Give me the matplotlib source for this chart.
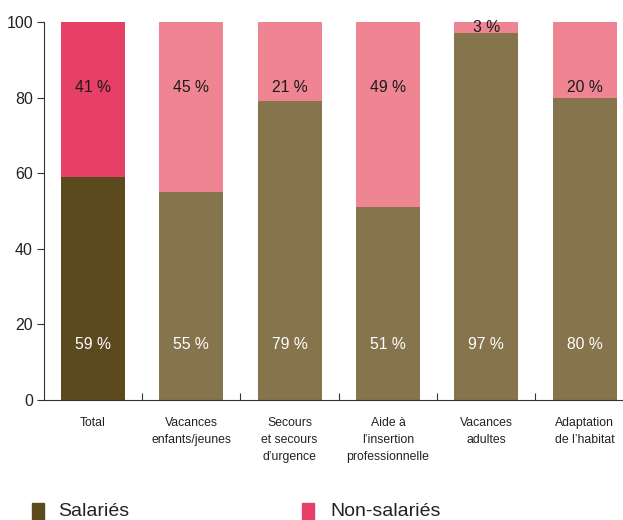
import numpy as np
import matplotlib.pyplot as plt
from matplotlib.patches import Rectangle

categories = ["Total", "Vacances\nenfants/jeunes", "Secours\net secours\nd\u2019urgence",
              "Aide \u00e0\nl\u2019insertion\nprofessionnelle", "Vacances\nadultes",
              "Adaptation\nde l\u2019habitat"]
salaries = [59, 55, 79, 51, 97, 80]
non_salaries = [41, 45, 21, 49, 3, 20]

sal_colors = ["#5c4a1f"] + ["#85744c"] * 5
non_colors = ["#e64066"] + ["#ef8593"] * 5

plt.rcParams['font.family'] = ['Liberation Sans', 'DejaVu Sans']

fig = plt.figure(figsize=(6.23, 5.20), dpi=100)
ax = fig.add_axes([44 / 623, 1 - 400 / 520, 1 - 44 / 623, 378 / 520])

x = np.arange(len(categories))
w = 0.65
ax.bar(x, salaries, w, color=sal_colors)
ax.bar(x, non_salaries, w, bottom=salaries, color=non_colors)

for i in x:
    ax.text(i, 14.8, "%d %%" % salaries[i], ha='center', va='center',
            color='white', fontsize=11.3)
    ypos = 82.6 if non_salaries[i] > 10 else salaries[i] + non_salaries[i] / 2
    ax.text(i, ypos, "%d %%" % non_salaries[i], ha='center', va='center',
            color='#1a1a1a', fontsize=11.3)

ax.set_xlim(-0.498, 5.39)
ax.set_ylim(0, 100)
ax.set_yticks([0, 20, 40, 60, 80, 100])
ax.tick_params(axis='y', length=5, width=0.8, color='#333333', labelsize=11.5,
               labelcolor='#222222', pad=3)
ax.set_xticks(x)
ax.set_xticklabels(categories, fontsize=8.8, color='#222222', linespacing=1.55)
ax.tick_params(axis='x', length=0, pad=12)
ax.set_xticks(x[:-1] + 0.5, minor=True)
ax.tick_params(axis='x', which='minor', direction='in', length=5, width=0.8,
               color='#333333')
for s in ['top', 'right']:
    ax.spines[s].set_visible(False)
for s in ['left', 'bottom']:
    ax.spines[s].set_linewidth(0.8)
    ax.spines[s].set_color('#333333')

# legend
fig.patches.append(Rectangle((32 / 623, 1 - 519 / 520), 12 / 623, 16 / 520,
                             transform=fig.transFigure, color=sal_colors[0]))
fig.text(58 / 623, 1 - 512 / 520, "Salari\u00e9s", fontsize=14, va='center',
         color='#222222')
fig.patches.append(Rectangle((302 / 623, 1 - 519 / 520), 12 / 623, 16 / 520,
                             transform=fig.transFigure, color=non_colors[0]))
fig.text(330 / 623, 1 - 512 / 520, "Non-salari\u00e9s", fontsize=14, va='center',
         color='#222222')

fig.savefig("out.png", dpi=100)
